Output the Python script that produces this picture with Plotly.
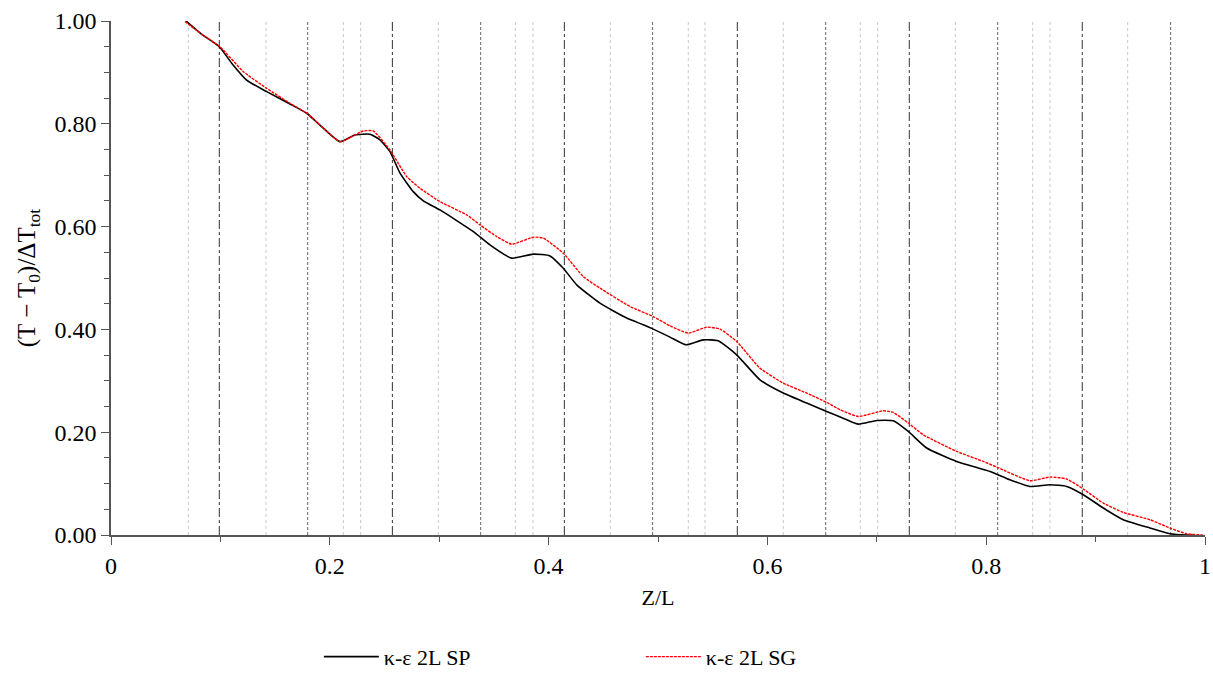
import plotly.graph_objects as go

# κ-ε 2L SP (black, solid)
sp_z = [0.0686, 0.083, 0.099, 0.1103, 0.124, 0.1423, 0.1636, 0.1789, 0.194, 0.2093,
        0.223, 0.2367, 0.2459, 0.255, 0.2642, 0.2763, 0.2855, 0.3007, 0.3312, 0.3464,
        0.3662, 0.386, 0.4013, 0.4134, 0.4257, 0.447, 0.4714, 0.4866, 0.4957, 0.511,
        0.5256, 0.5414, 0.555, 0.5719, 0.5932, 0.6145, 0.6359, 0.6542, 0.6725, 0.6831,
        0.6999, 0.7151, 0.7288, 0.7456, 0.773, 0.8035, 0.8217, 0.840, 0.8583, 0.8736,
        0.8888, 0.907, 0.9253, 0.9497, 0.968, 0.983, 0.99]
sp_t = [1.000, 0.974, 0.950, 0.918, 0.885, 0.8626, 0.8386, 0.8205, 0.7914, 0.7653,
        0.7783, 0.7797, 0.7686, 0.746, 0.704, 0.668, 0.650, 0.6325, 0.5903, 0.5645,
        0.5386, 0.5464, 0.543, 0.519, 0.4867, 0.451, 0.422, 0.409, 0.4005, 0.385,
        0.370, 0.3797, 0.3778, 0.3506, 0.302, 0.2761, 0.2567, 0.2403, 0.2242, 0.2158,
        0.2228, 0.2222, 0.2014, 0.1692, 0.1431, 0.1237, 0.1075, 0.0945, 0.0978, 0.0945,
        0.0784, 0.0525, 0.0297, 0.0136, 0.0025, 0.0, 0.0]

# κ-ε 2L SG (red, dashed)
sg_z = [0.0676, 0.083, 0.0996, 0.121, 0.1423, 0.1636, 0.179, 0.194, 0.2093, 0.2306,
        0.2398, 0.255, 0.2703, 0.2824, 0.3007, 0.3251, 0.3373, 0.3526, 0.3662, 0.386,
        0.3952, 0.4134, 0.4317, 0.447, 0.4744, 0.4957, 0.511, 0.5277, 0.5445, 0.5567,
        0.5719, 0.5932, 0.6145, 0.6359, 0.6542, 0.6664, 0.6831, 0.706, 0.7151, 0.7288,
        0.7425, 0.773, 0.7974, 0.8096, 0.840, 0.8583, 0.8736, 0.8888, 0.907, 0.9253,
        0.9497, 0.968, 0.983, 0.998]
sg_t = [0.999, 0.974, 0.950, 0.9014, 0.869, 0.840, 0.8205, 0.792, 0.7653, 0.786,
        0.786, 0.749, 0.6973, 0.6747, 0.6486, 0.6228, 0.6033, 0.5806, 0.5658, 0.5794,
        0.5775, 0.5483, 0.5028, 0.4803, 0.4445, 0.425, 0.407, 0.3928, 0.4044, 0.4005,
        0.3765, 0.3247, 0.2955, 0.2761, 0.2579, 0.2436, 0.2306, 0.2417, 0.2384, 0.2178,
        0.195, 0.1626, 0.1431, 0.1322, 0.1056, 0.1128, 0.1089, 0.0894, 0.0622, 0.044,
        0.0297, 0.0136, 0.0025, 0.0]

# vertical marker lines (Z/L positions)
dashdot_z = [0.099, 0.2572, 0.4144, 0.5725, 0.7297, 0.8878]
dashed_z = [0.1798, 0.3379, 0.4951, 0.6533, 0.8105, 0.9686]
dotted_z = [0.0707, 0.1417, 0.2124, 0.2282, 0.2992, 0.3696, 0.3857, 0.4564, 0.5277,
            0.543, 0.6145, 0.6849, 0.7008, 0.7718, 0.8425, 0.8583, 0.9293]

x_ticks = [0, 0.2, 0.4, 0.6, 0.8, 1]
x_ticktext = ["0", "0.2", "0.4", "0.6", "0.8", "1"]

FONT = "Liberation Serif, DejaVu Serif, serif"

fig = go.Figure()

for z in dotted_z:
    fig.add_vline(x=z, line=dict(color="#c8c8c8", width=1, dash="dot"), layer="below")
for z in dashed_z:
    fig.add_vline(x=z, line=dict(color="#666666", width=1, dash="3px,2px"), layer="below")
for z in dashdot_z:
    fig.add_vline(x=z, line=dict(color="#333333", width=1, dash="dashdot"), layer="below")

fig.add_trace(go.Scatter(x=sp_z, y=sp_t, mode="lines", name="κ-ε 2L SP",
                         line=dict(color="black", width=1.6, shape="spline", smoothing=0.5)))
fig.add_trace(go.Scatter(x=sg_z, y=sg_t, mode="lines", name="κ-ε 2L SG",
                         line=dict(color="red", width=1.4, dash="3px,1px",
                                   shape="spline", smoothing=0.5)))

fig.update_xaxes(
    range=[0, 1], tickvals=x_ticks, ticktext=x_ticktext,
    showline=True, linecolor="#555555", linewidth=1.5, showgrid=False, zeroline=False,
    ticks="outside", ticklen=8, tickcolor="#555555",
    minor=dict(dtick=0.1, ticks="outside", ticklen=5, tickcolor="#555555", showgrid=False),
    tickfont=dict(family=FONT, size=24, color="black"),
    title=dict(text="Z/L", font=dict(family=FONT, size=22, color="black"), standoff=12),
)
fig.update_yaxes(
    range=[0, 1], dtick=0.2, tickformat=".2f",
    showline=True, linecolor="#555555", linewidth=1.5, showgrid=False, zeroline=False,
    ticks="outside", ticklen=8, tickcolor="#555555",
    minor=dict(dtick=0.05, ticks="outside", ticklen=5, tickcolor="#555555", showgrid=False),
    tickfont=dict(family=FONT, size=24, color="black"),
    title=dict(text="(T − T<sub>0</sub>)/ΔT<sub>tot</sub>",
               font=dict(family=FONT, size=25, color="black"), standoff=12),
)

fig.update_layout(
    width=1213, height=673,
    margin=dict(l=111, r=8, t=21, b=138, autoexpand=False),
    plot_bgcolor="white", paper_bgcolor="white",
    font=dict(family=FONT, color="black"),
    showlegend=True,
    legend=dict(orientation="h", x=0.19, xanchor="left", y=-0.237, yanchor="middle",
                itemwidth=55, entrywidth=252, entrywidthmode="pixels",
                font=dict(family=FONT, size=22, color="black"),
                bgcolor="rgba(0,0,0,0)"),
)

fig.write_html("out.html", config={"displayModeBar": False},
               post_script="document.body.style.margin='0';")
